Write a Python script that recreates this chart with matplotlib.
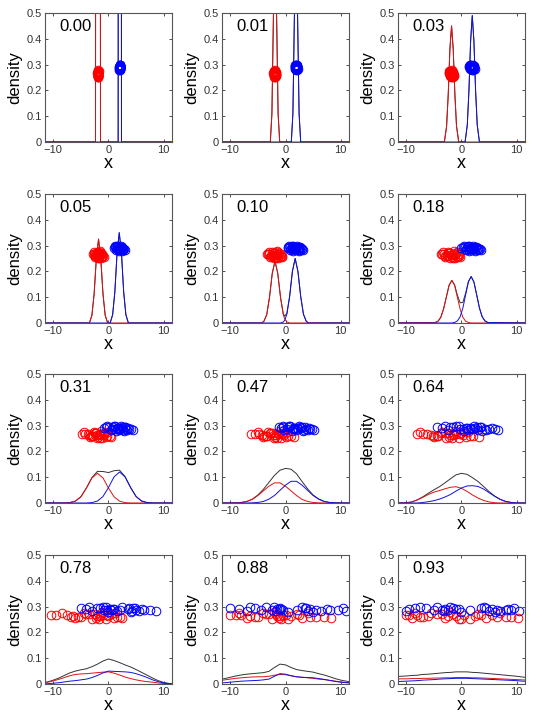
import numpy as np
import matplotlib
matplotlib.use("Agg")
import matplotlib.pyplot as plt

plt.rcParams['font.family'] = ['Liberation Sans', 'DejaVu Sans']

# noise level written in each panel
levels = ["0.00", "0.01", "0.03", "0.05", "0.10", "0.18",
          "0.31", "0.47", "0.64", "0.78", "0.88", "0.93"]

grid_wide = [-12, -11, -10, -9, -8, -7, -6, -5, -4, -3, -2, -1, 0,
             1, 2, 3, 4, 5, 6, 7, 8, 9, 10, 11, 12]

# x positions where the densities were read, one list per panel
curve_x = [
    [-12, -2.35, -1.9, -1.45, 1.75, 2.05, 2.35, 12],
    [-12, -2.75, -2.46, -2.18, -1.9, -1.62, -1.34, -1.05,
     1.05, 1.34, 1.62, 1.9, 2.18, 2.46, 2.75, 12],
    [-12, -3.1, -2.7, -2.4, -2.1, -1.8, -1.5, -1.2, -0.9, -0.5,
     0.65, 1.05, 1.35, 1.65, 1.95, 2.25, 2.55, 2.85, 3.25, 12],
    [-12, -3.45, -3.0, -2.6, -2.2, -1.8, -1.4, -1.0, -0.6, -0.15,
     0.3, 0.75, 1.15, 1.55, 1.95, 2.35, 2.75, 3.15, 3.6, 12],
    [-12, -4.3, -3.9, -3.4, -2.9, -2.4, -1.9, -1.4, -0.9, -0.4, -0.15,
     0.25, 0.75, 1.25, 1.75, 2.25, 2.75, 3.25, 3.75, 4.15, 12],
    [-12, -4.75, -4.25, -3.75, -3.25, -2.75, -2.25, -1.75, -1.25, -0.75, -0.25,
     0.25, 0.75, 1.25, 1.75, 2.25, 2.75, 3.25, 3.75, 4.25, 4.75, 12],
    grid_wide, grid_wide, grid_wide, grid_wide, grid_wide, grid_wide,
]

# density of the red component
red_density = [
    [0, 0, 20, 0, 0, 0, 0, 0],
    [0, 0, .11, .5, .82, .5, .11, 0, 0, 0, 0, 0, 0, 0, 0, 0],
    [0, 0, .061, .185, .36, .45, .36, .185, .061, 0, 0, 0, 0, 0, 0, 0, 0, 0, 0, 0],
    [0, 0, .03, .113, .25, .325, .25, .113, .03, 0, 0, 0, 0, 0, 0, 0, 0, 0, 0, 0],
    [0, 0, .007, .032, .099, .192, .24, .192, .099, .032, .016, .004, 0, 0, 0, 0, 0, 0, 0, 0, 0],
    [0, .002, .007, .022, .054, .1, .146, .165, .146, .1, .054, .022, .007, .002, 0, 0, 0, 0, 0, 0, 0, 0],
    [0, 0, 0, 0, 0, .0015, .0072, .024, .058, .097, .115, .097, .058, .024, .0072, .0015,
     0, 0, 0, 0, 0, 0, 0, 0, 0],
    [0, 0, 0, .0006, .002, .006, .014, .029, .047, .065, .078, .078, .065, .047, .029, .014,
     .006, .002, .0006, 0, 0, 0, 0, 0, 0],
    [0, 0, .001, .004, .012, .022, .033, .042, .048, .055, .061, .063, .057, .045, .031, .019,
     .01, .004, .001, 0, 0, 0, 0, 0, 0],
    [.004, .007, .012, .018, .025, .032, .037, .039, .040, .042, .044, .046, .047, .042, .035,
     .027, .021, .016, .012, .009, .007, .004, .002, .001, 0],
    [.013, .016, .019, .022, .024, .026, .027, .028, .028, .030, .034, .037, .036, .032, .028,
     .026, .024, .022, .019, .017, .014, .011, .008, .006, .004],
    [.019, .020, .020, .021, .021, .022, .022, .023, .023, .024, .024, .025, .025, .025, .024,
     .024, .023, .022, .021, .020, .019, .018, .017, .016, .015],
]

# density of the blue component
blue_density = [
    [0, 0, 0, 0, 0, 20, 0, 0],
    [0, 0, 0, 0, 0, 0, 0, 0, 0, .11, .5, .82, .5, .11, 0, 0],
    [0, 0, 0, 0, 0, 0, 0, 0, 0, 0, 0, .066, .2, .39, .49, .39, .2, .066, 0, 0],
    [0, 0, 0, 0, 0, 0, 0, 0, 0, 0, 0, .032, .12, .27, .35, .27, .12, .032, 0, 0],
    [0, 0, 0, 0, 0, 0, 0, 0, 0, .004, .01, .034, .103, .2, .25, .2, .103, .034, .007, 0, 0],
    [0, 0, 0, 0, 0, 0, 0, 0, .002, .008, .024, .058, .109, .159, .18, .159, .109, .058, .024, .008, .002, 0],
    [0, 0, 0, 0, 0, 0, 0, 0, 0, .0016, .0075, .025, .06, .101, .12, .101, .06, .025, .0075, .0016,
     0, 0, 0, 0, 0],
    [0, 0, 0, 0, 0, 0, .0007, .002, .006, .015, .029, .049, .069, .084, .084, .069, .049, .029,
     .015, .006, .002, .0007, 0, 0, 0],
    [0, 0, 0, 0, 0, .002, .005, .009, .015, .023, .033, .046, .058, .066, .067, .064, .054, .04,
     .026, .014, .006, .002, 0, 0, 0],
    [0, .001, .003, .005, .008, .011, .013, .016, .019, .025, .033, .043, .050, .049, .048, .047,
     .045, .040, .033, .025, .016, .009, .004, .001, 0],
    [.004, .005, .007, .009, .011, .012, .013, .014, .016, .019, .030, .040, .038, .032, .028,
     .026, .025, .024, .021, .018, .014, .010, .007, .005, .003],
    [.009, .010, .011, .012, .013, .015, .016, .017, .019, .020, .021, .022, .022, .022, .021,
     .020, .019, .018, .017, .016, .015, .014, .013, .011, .010],
]

# vertical offsets of the sample circles (same particles in every panel)
red_y = [0.262, 0.271, 0.255, 0.268, 0.276, 0.259, 0.266, 0.251, 0.273, 0.264,
         0.257, 0.269, 0.279, 0.261, 0.254, 0.267, 0.272, 0.258, 0.265, 0.253,
         0.270, 0.263, 0.275, 0.256, 0.268, 0.260, 0.274, 0.252, 0.266, 0.259]
blue_y = [0.289, 0.295, 0.283, 0.291, 0.298, 0.286, 0.293, 0.280, 0.296, 0.288,
          0.284, 0.292, 0.300, 0.287, 0.282, 0.294, 0.290, 0.285, 0.297, 0.281,
          0.292, 0.288, 0.299, 0.284, 0.291, 0.286, 0.295, 0.279, 0.293, 0.287]

# sample positions per panel
red_x = [
    [-1.95, -1.85, -1.9, -2.0, -1.8, -1.92, -1.88, -1.97, -1.83, -1.9, -1.86, -1.94, -1.91, -1.87, -1.99,
     -1.82, -1.93, -1.89, -1.96, -1.84, -1.9, -1.88, -1.92, -1.85, -1.95, -1.9, -1.87, -1.93, -1.89, -1.91],
    [-1.95, -1.8, -2.1, -1.9, -2.0, -1.75, -2.15, -1.85, -2.05, -1.95, -1.7, -2.2, -1.9, -2.0, -1.85,
     -2.1, -1.95, -1.8, -2.05, -1.9, -2.0, -1.75, -2.15, -1.95, -1.85, -2.05, -1.9, -2.0, -1.8, -2.1],
    [-1.8, -1.5, -2.1, -1.7, -2.0, -1.4, -2.3, -1.6, -1.9, -1.8, -1.3, -2.2, -1.7, -2.0, -1.55,
     -2.1, -1.85, -1.45, -1.95, -1.75, -2.05, -1.65, -2.25, -1.8, -1.6, -2.0, -1.7, -1.9, -1.5, -2.15],
    [-1.85, -1.3, -2.4, -1.6, -2.1, -1.0, -2.7, -1.4, -2.0, -1.8, -0.9, -2.8, -1.5, -2.2, -1.2,
     -2.5, -1.9, -1.1, -2.3, -1.7, -2.0, -1.45, -2.6, -1.75, -1.35, -2.15, -1.65, -1.95, -1.25, -2.45],
    [-1.95, -1.1, -2.8, -1.5, -2.4, -0.7, -3.2, -1.3, -2.2, -1.8, -0.6, -3.3, -1.6, -2.6, -1.0,
     -2.9, -2.0, -0.9, -2.5, -1.7, -2.1, -1.2, -3.0, -1.85, -1.4, -2.3, -1.55, -2.05, -0.8, -2.7],
    [-1.9, -1.0, -2.9, -1.5, -2.5, -0.4, -3.5, -1.2, -2.2, -1.7, -0.2, -3.8, -1.4, -2.7, -0.8,
     -3.1, -2.0, -0.6, -2.6, -1.6, -2.3, -1.1, -3.3, -1.8, -1.3, -2.4, -0.9, -2.1, -0.5, -3.0],
    [-2.0, -0.8, -3.3, -1.5, -2.7, 0.2, -4.2, -1.1, -2.4, -1.8, 0.5, -4.8, -1.3, -3.0, -0.5,
     -3.8, -2.2, -0.2, -3.5, -1.6, -2.5, -0.9, -4.5, -1.9, -1.0, -2.8, -0.3, -2.1, -1.4, -3.1],
    [-2.0, -0.5, -4.0, -1.2, -3.1, 1.0, -5.5, -0.8, -2.6, -1.7, 1.6, -6.3, -1.0, -3.6, 0.0,
     -4.8, -2.3, 0.5, -4.3, -1.5, -2.8, -0.3, -5.0, -1.9, -0.6, -3.3, 0.3, -2.1, -1.4, -3.9],
    [-2.0, 0.0, -5.0, -1.0, -3.5, 2.0, -7.0, -0.5, -3.0, -1.5, 3.2, -8.0, -1.2, -4.5, 0.8,
     -6.2, -2.5, 1.5, -5.5, -1.8, -3.8, 0.3, -7.5, -2.2, -0.2, -4.2, 1.2, -2.8, -1.3, -5.2],
    [-2.0, 0.5, -6.0, -1.0, -4.5, 2.0, -9.5, -0.5, -3.5, -1.5, 2.5, -10.5, -1.2, -5.5, 1.0,
     -7.5, -2.5, 1.5, -6.5, -1.8, -4.0, 0.0, -8.5, -2.2, -0.2, -5.0, 1.2, -3.0, -1.4, -6.8],
    [-1.5, 2.0, -7.0, -0.5, -4.0, 4.5, -10.0, 0.5, -3.0, -1.0, 8.3, -9.0, -2.0, -5.5, 3.0,
     -8.0, -1.8, 5.5, -6.5, -0.8, -3.5, 1.0, -8.5, -1.2, 2.5, -5.0, 4.0, -2.5, 0.0, 7.0],
    [-2.5, 3.0, -9.0, 0.5, -5.5, 6.5, -10.0, 1.5, -3.5, -1.0, 10.2, -8.0, -2.0, -7.0, 4.5,
     -9.5, -1.5, 8.0, -6.0, 0.0, -4.5, 2.5, -8.5, -3.0, 5.5, -7.5, 7.0, -0.5, 3.5, 9.0],
]
blue_x = [
    [2.0, 2.1, 2.05, 1.98, 2.12, 2.03, 2.07, 1.96, 2.1, 2.04, 2.08, 2.01, 2.06, 2.13, 1.99,
     2.05, 2.09, 2.02, 2.11, 2.04, 2.0, 2.07, 2.03, 2.1, 1.97, 2.06, 2.04, 2.08, 2.02, 2.05],
    [1.95, 2.1, 1.8, 2.0, 1.9, 2.15, 1.75, 2.05, 1.85, 1.95, 2.2, 1.7, 2.0, 1.9, 2.05,
     1.8, 1.95, 2.1, 1.85, 2.0, 1.9, 2.15, 1.75, 1.95, 2.05, 1.85, 2.0, 1.9, 2.1, 1.8],
    [1.9, 2.2, 1.6, 2.0, 1.8, 2.3, 1.4, 2.1, 1.7, 1.9, 2.5, 1.3, 2.0, 1.8, 2.15,
     1.65, 1.95, 2.35, 1.55, 2.05, 1.85, 2.25, 1.45, 1.9, 2.1, 1.75, 2.0, 1.85, 2.2, 1.6],
    [1.95, 2.5, 1.4, 2.2, 1.7, 2.7, 1.1, 2.4, 1.6, 2.0, 2.9, 1.0, 2.3, 1.8, 2.6,
     1.3, 2.1, 2.8, 1.5, 2.25, 1.85, 2.55, 1.2, 2.0, 2.45, 1.65, 2.15, 1.9, 2.35, 1.55],
    [1.75, 2.6, 0.9, 2.2, 1.3, 2.9, 0.5, 2.4, 1.1, 1.8, 3.1, 0.45, 2.0, 1.5, 2.7,
     0.8, 1.9, 3.0, 1.2, 2.3, 1.6, 2.5, 0.7, 1.7, 2.8, 1.0, 2.1, 1.4, 2.45, 1.25],
    [1.8, 2.7, 0.8, 2.3, 1.3, 3.2, 0.2, 2.5, 1.0, 1.9, 3.5, 0.0, 2.1, 1.5, 2.9,
     0.6, 2.0, 3.3, 1.2, 2.4, 1.6, 2.8, 0.4, 1.7, 3.0, 1.1, 2.2, 1.4, 2.6, 0.9],
    [1.8, 3.0, 0.4, 2.5, 1.2, 3.8, -0.5, 2.8, 0.8, 2.0, 4.4, -0.8, 2.2, 1.5, 3.4,
     0.1, 2.1, 4.0, 1.0, 2.7, 1.6, 3.2, -0.2, 1.9, 3.6, 0.6, 2.4, 1.3, 2.9, 1.1],
    [1.8, 3.5, -0.2, 2.8, 0.9, 4.5, -1.2, 3.1, 0.4, 2.2, 5.2, -0.8, 2.5, 1.3, 4.0,
     -0.5, 2.0, 4.8, 0.7, 3.3, 1.6, 3.8, -0.4, 1.9, 4.3, 0.2, 2.7, 1.1, 3.0, 1.4],
    [1.0, 3.5, -2.5, 2.5, -0.5, 5.0, -4.4, 3.8, -1.5, 1.8, 6.6, -3.5, 2.2, 0.3, 4.5,
     -2.0, 1.5, 6.0, -1.0, 3.0, 0.8, 4.2, -3.0, 1.2, 5.5, -0.2, 2.8, 0.5, 3.3, 2.0],
    [1.0, 4.5, -3.0, 3.5, -0.5, 6.5, -5.0, 4.0, -1.5, 0.5, 8.6, -4.0, 2.5, -0.2, 5.5,
     -2.0, 0.2, 7.5, -1.0, 4.2, 0.8, 5.0, -3.5, 1.5, 6.0, -0.8, 3.8, 0.0, 4.8, 2.0],
    [-1.5, 3.5, -7.0, 4.5, -2.0, 8.0, -10.0, 5.0, -1.0, -0.5, 11.0, -8.5, 3.0, -2.5, 6.5,
     -5.5, -1.2, 9.5, -3.5, 4.0, -0.8, 5.5, -6.5, -1.8, 7.5, -4.5, 3.8, 0.5, 10.5, 2.0],
    [-3.0, 4.5, -10.0, 5.5, -2.0, 8.0, -8.5, 6.0, -1.5, -3.5, 10.5, -9.5, 4.0, -2.5, 7.0,
     -6.5, -0.5, 9.0, -4.5, 5.0, -1.0, 6.5, -7.5, -3.2, 8.5, -5.0, 3.5, 0.0, 9.5, 1.5],
]

fig = plt.figure(figsize=(5.33, 7.16), dpi=100)

lefts = [0.0844, 0.4165, 0.7467]
bottoms = [0.8017, 0.5489, 0.2975, 0.0447]
w, h = 0.2383, 0.1802

for i, lev in enumerate(levels):
    row, col = divmod(i, 3)
    ax = fig.add_axes([lefts[col], bottoms[row], w, h])

    xs = np.array(curve_x[i], dtype=float)
    r = np.array(red_density[i])
    b = np.array(blue_density[i])

    # mixture first, components on top
    ax.plot(xs, r + b, color='#333333', lw=0.7)
    ax.plot(xs, r, color='#e01010', lw=0.7)
    ax.plot(xs, b, color='#1010e0', lw=0.7)

    ax.plot(red_x[i], red_y, 'o', mfc='none', mec='red', ms=6.2, mew=0.7)
    ax.plot(blue_x[i], blue_y, 'o', mfc='none', mec='blue', ms=6.2, mew=0.7)

    ax.set_xlim(-11.5, 11.5)
    ax.set_ylim(0, 0.5)
    ax.set_xticks([-10, 0, 10])
    ax.set_yticks([0, 0.1, 0.2, 0.3, 0.4, 0.5])
    ax.set_yticklabels(['0', '0.1', '0.2', '0.3', '0.4', '0.5'])
    ax.tick_params(direction='in', length=2.5, width=0.6, labelsize=8,
                   colors='#333333', top=True, right=True, pad=2)
    for s in ax.spines.values():
        s.set_color('#555555')
        s.set_linewidth(0.8)

    ax.set_xlabel('x', fontsize=13, labelpad=0.5)
    ax.set_ylabel('density', fontsize=12, labelpad=3)
    ax.text(0.11, 0.895, lev, transform=ax.transAxes, fontsize=12,
            va='center', ha='left')

fig.savefig('out.png', dpi=100)
